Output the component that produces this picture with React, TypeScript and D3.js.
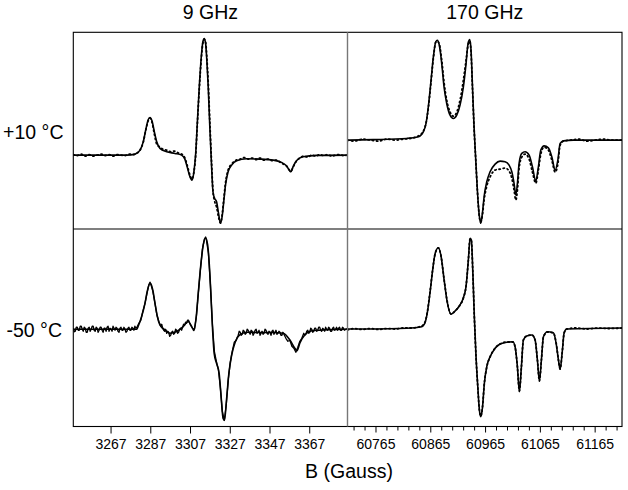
import React from "react";
import * as d3 from "d3";

type Pt = [number, number];

// ---------- axis data ----------
const ticks9: number[] = [3267, 3287, 3307, 3327, 3347, 3367];
const ticks170Major: number[] = [60765, 60865, 60965, 61065, 61165];
const ticks170All: number[] = [
  60725, 60745, 60765, 60785, 60805, 60825, 60845, 60865, 60885, 60905, 60925, 60945,
  60965, 60985, 61005, 61025, 61045, 61065, 61085, 61105, 61125, 61145, 61165, 61185, 61205,
];
const domain9: [number, number] = [3248, 3386];
const domain170: [number, number] = [60713, 61214];
const colTitles = ["9 GHz", "170 GHz"];
const rowTitles = ["+10 °C", "-50 °C"];
const xTitle = "B (Gauss)";

// ---------- 9 GHz, +10 C ----------
const sim9Warm: Pt[] = [
  [3248.1, 0], [3258.1, 0], [3266.5, 0], [3274.9, 0], [3279.1, 1], [3281.6, 5], [3283.2, 13.3],
  [3284.6, 26.7], [3285.6, 35], [3286.6, 37.7], [3287.6, 34.3], [3288.8, 23.3], [3290.0, 13.3],
  [3291.6, 6.7], [3295.0, 3.3], [3299.2, 1.7], [3302.5, 0], [3304.2, -4.3], [3305.3, -11.7],
  [3306.7, -21.7], [3307.7, -25], [3308.7, -16.7], [3309.6, 1.7], [3310.4, 31.7], [3311.4, 68.3],
  [3312.4, 98.3], [3313.2, 113.3], [3313.9, 116.7], [3314.6, 111.7], [3315.2, 95], [3315.9, 68.3],
  [3316.7, 28.3], [3317.6, -11.7], [3318.3, -36.7], [3319.1, -43.3], [3320.1, -46.7], [3321.1, -58.3],
  [3322.1, -68.3], [3322.9, -61.7], [3323.8, -45], [3324.6, -30], [3325.9, -16.7], [3327.7, -10],
  [3330.2, -5.7], [3335.2, -3.7], [3341.9, -4], [3348.6, -5], [3352.8, -7.3], [3355.3, -10.7],
  [3357.5, -16.7], [3358.6, -11.7], [3360.3, -5.7], [3363.6, -1.7], [3370.4, -0.3], [3386, 0],
];
const exp9Warm: Pt[] = [
  [3248, 0.5], [3250, -0.5], [3252, 1], [3254, -1], [3256, 0.5], [3258, -1], [3260, 0], [3262, 1],
  [3264, -0.5], [3266, 0.5], [3268, -1], [3270, 0.5], [3272, 0], [3274, -0.5], [3276, 1], [3278, 0.5],
  [3280, 2], [3281.6, 5], [3283.2, 13], [3284.6, 26], [3285.6, 34], [3286.6, 37], [3287.6, 33],
  [3288.8, 21], [3290, 11], [3291.6, 8], [3293, 6], [3295, 5], [3297, 3.5], [3299, 4], [3301, 2],
  [3302.5, 1], [3304.2, -3], [3305.3, -10], [3306.7, -20], [3307.7, -24], [3308.7, -17], [3309.6, 0],
  [3310.4, 30], [3311.4, 66], [3312.4, 96], [3313.2, 112], [3313.9, 116], [3314.6, 113], [3315.2, 98],
  [3315.9, 73], [3316.7, 34], [3317.6, -8], [3318.3, -36], [3319.1, -46], [3320.1, -52], [3321.1, -62],
  [3322.1, -68], [3322.9, -60], [3323.8, -43], [3324.6, -28], [3325.9, -15], [3327.7, -9], [3330, -5],
  [3332, -4], [3334, -2.5], [3336, -4], [3338, -3], [3340, -4.5], [3342, -3], [3344, -5], [3346, -4],
  [3348, -5.5], [3350, -5], [3352.8, -8], [3355.3, -11], [3357.5, -16], [3358.6, -12], [3360.3, -6],
  [3362, -3], [3364, -1], [3366, -2], [3368, 0], [3370, -1], [3372, 0.5], [3374, -0.5], [3376, 0.5],
  [3378, -1], [3380, 0], [3382, 0.5], [3384, -0.5], [3386, 0],
];

// ---------- 170 GHz, +10 C ----------
const sim170Warm: Pt[] = [
  [60713, 0], [60760, 0.5], [60821, 1.7], [60842.3, 3.3], [60851.4, 8.3], [60856.3, 16.7],
  [60860.5, 33.3], [60864.9, 56.7], [60869.7, 83.3], [60874, 98.3], [60877, 100], [60880.6, 95],
  [60885, 76.7], [60889.2, 53.3], [60894.1, 36.7], [60900.2, 25], [60906.2, 21.7], [60912.4, 25],
  [60918.4, 35], [60924.5, 53.3], [60929.4, 76.7], [60933, 96.7], [60936.1, 100.7], [60938.5, 90],
  [60940.9, 56.7], [60944, 13.3], [60947.1, -20], [60950, -50], [60953.1, -73.3], [60956.2, -83.3],
  [60959.2, -73.3], [60962.3, -56.7], [60967.2, -41.7], [60973.2, -31.7], [60982.4, -24],
  [60991.5, -21], [61000.6, -21.7], [61007.9, -25], [61012.9, -31.7], [61017, -43.3], [61020.2, -55],
  [61023.1, -43.3], [61026.2, -23.3], [61031.1, -13.3], [61037.1, -11.7], [61044.5, -15],
  [61050.5, -26.7], [61056.7, -41], [61061.4, -26.7], [61065.8, -10], [61071.8, -5.7], [61079.7, -7.7],
  [61085.9, -16.7], [61092, -30], [61096.9, -20], [61101.1, -3.3], [61107.1, -0.7], [61125.4, 0],
  [61214, 0],
];
const exp170Warm: Pt[] = [
  [60713, 0], [60725, -1], [60740, 1], [60755, 0], [60770, -1], [60785, 1], [60800, 0], [60815, 1],
  [60830, 2], [60842, 4], [60851.4, 9], [60856.3, 17], [60860.5, 32], [60864.9, 55], [60869.7, 82],
  [60874, 98], [60877, 99], [60880.6, 96], [60885, 80], [60889.2, 58], [60894.1, 40], [60900.2, 28],
  [60906.2, 24], [60912.4, 28], [60918.4, 40], [60924.5, 60], [60929.4, 80], [60933, 95], [60936.1, 99],
  [60938.5, 88], [60940.9, 55], [60944, 12], [60947.1, -20], [60950, -50], [60953.1, -74],
  [60956.2, -82], [60959.2, -75], [60962.3, -60], [60967.2, -46], [60973.2, -37], [60982.4, -30],
  [60991.5, -29], [61000.6, -28], [61007.9, -31], [61012.9, -38], [61017, -50], [61020.2, -60],
  [61023.1, -50], [61026.2, -28], [61031.1, -17], [61037.1, -14], [61044.5, -19], [61050.5, -32],
  [61056.7, -43], [61061.4, -30], [61065.8, -14], [61071.8, -7], [61079.7, -10], [61085.9, -20],
  [61092, -32], [61096.9, -24], [61101.1, -5], [61107.1, -1], [61120, 0], [61135, 1], [61150, -1],
  [61165, 0], [61180, 1], [61195, 0], [61214, 0],
];

// ---------- 9 GHz, -50 C ----------
const sim9Cold: Pt[] = [
  [3248.1, 0], [3279.9, 0], [3280.7, 3.3], [3282.4, 12.7], [3284.1, 26], [3285.2, 37.7], [3286.6, 46],
  [3288, 39.3], [3289.1, 26], [3290.3, 12.7], [3291.6, 4.3], [3294.1, -0.7], [3296.6, -4], [3300, -2.3],
  [3303.3, 2.7], [3305.8, 7.7], [3307.6, 2.7], [3308.7, -1.3], [3309.7, 9.3], [3310.9, 36],
  [3312.1, 62.7], [3313.4, 84.3], [3314.6, 91], [3315.6, 84.3], [3316.4, 66], [3317.3, 32.7],
  [3318.1, -0.3], [3318.9, -24], [3320.1, -34], [3321.4, -44], [3322.4, -67.3], [3323.4, -89],
  [3324.1, -90.7], [3325.1, -70.7], [3326.3, -44], [3327.7, -25.7], [3329.3, -14], [3331.8, -5.7],
  [3335.2, -3], [3341.9, -3.3], [3348.6, -3.3], [3353.6, -4], [3357, -10.7], [3359.5, -19],
  [3360.6, -21.3], [3362, -14], [3364.5, -5.7], [3368.7, -1.3], [3386, 0],
];
const exp9Cold: Pt[] = [
  [3248, 1], [3248.5, -2.5], [3249, -2], [3249.5, 2], [3250, 2], [3250.5, -1], [3251, -1], [3251.5, 3],
  [3252, 3], [3252.5, 0], [3253, -2], [3253.5, 2], [3254, 1], [3254.5, -3], [3255, -3], [3255.5, 1],
  [3256, 2], [3256.5, -2], [3257, 0], [3257.5, 3], [3258, 3], [3258.5, -1], [3259, -2], [3259.5, 2],
  [3260, 1], [3260.5, -3], [3261, -1], [3261.5, 2], [3262, 2], [3262.5, -1], [3263, -3], [3263.5, 1],
  [3264, 1], [3264.5, -2], [3265, 2], [3265.5, 3], [3266, -2], [3266.5, 1], [3267, 0], [3267.5, -2],
  [3268, 3], [3268.5, 1], [3269, -1], [3269.5, 2], [3270, 1], [3270.5, -2], [3271, -3], [3271.5, 1],
  [3272, 2], [3272.5, -1], [3273, -1], [3273.5, 2], [3274, 0], [3274.5, -3], [3275, -2], [3275.5, 1],
  [3276, 2], [3276.5, -1], [3277, -1], [3277.5, 2], [3278, 1], [3278.5, -1], [3279, 3], [3279.5, 1],
  [3280, 2], [3281, 6], [3282, 9], [3283, 18], [3284, 25], [3285, 35], [3286, 44], [3286.6, 47],
  [3287, 45], [3288, 38], [3289, 27], [3290, 15], [3291, 8], [3292, 3], [3292.5, 5], [3293, 1],
  [3293.5, -1], [3294, -2], [3294.5, 0], [3295, -4], [3295.5, -2], [3296, -3], [3296.5, -7], [3297, -6],
  [3297.5, -3], [3298, -2], [3298.5, -5], [3299, -4], [3299.5, 0], [3300, -1], [3300.5, -4], [3301, -3],
  [3301.5, 0], [3302, 1], [3302.5, -1], [3303, 2], [3303.5, 5], [3304, 4], [3304.5, 7], [3305, 6],
  [3305.5, 9], [3306, 9], [3307, 4], [3308, 1], [3309, 0], [3310, 14], [3311, 38], [3312, 60],
  [3313, 80], [3314, 90], [3314.6, 92], [3315, 89], [3316, 76], [3317, 45], [3318, 5], [3319, -22],
  [3320, -32], [3321, -40], [3322, -58], [3323, -82], [3324, -91], [3325, -75], [3326, -50],
  [3327, -33], [3328, -22], [3329, -13], [3330, -11], [3330.5, -8], [3331, -6], [3331.5, -2], [3332, -3],
  [3332.5, -6], [3333, -5], [3333.5, -1], [3334, -2], [3334.5, -5], [3335, -4], [3335.5, 0], [3336, -1],
  [3336.5, -3], [3337, -5], [3337.5, -1], [3338, -2], [3338.5, -6], [3339, -4], [3339.5, -1],
  [3340, 0], [3340.5, -4], [3341, -3], [3341.5, -1], [3342, -6], [3342.5, -4], [3343, -2], [3343.5, -5],
  [3344, -4], [3344.5, 0], [3345, -1], [3345.5, -4], [3346, -5], [3346.5, -2], [3347, -3],
  [3347.5, -6], [3348, -2], [3348.5, -1], [3349, -5], [3349.5, -3], [3350, -1], [3350.5, -5],
  [3351, -4], [3351.5, -2], [3352, -3], [3352.5, -6], [3353, -6], [3353.5, -3], [3354, -5], [3355, -9],
  [3356, -12], [3357, -11], [3358, -17], [3359, -19], [3360, -23], [3361, -18], [3362, -12], [3363, -9],
  [3364, -4], [3364.5, -6], [3365, -5], [3365.5, -2], [3366, -1], [3366.5, -4], [3367, -3],
  [3367.5, 1], [3368, 0], [3368.5, -3], [3369, -2], [3369.5, 1], [3370, 1], [3370.5, -2], [3371, -1],
  [3371.5, 2], [3372, 2], [3372.5, -1], [3373, -2], [3373.5, 1], [3374, 0], [3374.5, -2], [3375, 2],
  [3375.5, 0], [3376, -1], [3376.5, 2], [3377, 1], [3377.5, -2], [3378, -2], [3378.5, 1], [3379, 2],
  [3379.5, -1], [3380, 0], [3380.5, 2], [3381, -1], [3381.5, 1], [3382, 2], [3382.5, -1], [3383, -1],
  [3383.5, 2], [3384, 1], [3384.5, -1], [3385, 0], [3386, 1],
];

// ---------- 170 GHz, -50 C ----------
const sim170Cold: Pt[] = [
  [60713, 0], [60760.1, 0], [60821.1, 0.7], [60848.5, 2.3], [60854.5, 6.3], [60858.7, 16.3],
  [60863.6, 36.3], [60868.6, 59.7], [60873.3, 76.3], [60878.8, 81.3], [60883.7, 73], [60889.2, 49.7],
  [60895.2, 26.3], [60902, 14.7], [60909.3, 18], [60917.1, 23], [60924.5, 31.3], [60929.4, 42.7],
  [60933.6, 69.3], [60936.7, 90.7], [60939.1, 89], [60941.6, 59], [60944.5, 12.3], [60947.6, -27.7],
  [60950.8, -57.7], [60953.7, -81], [60956.2, -87.7], [60959.2, -79.3], [60962.8, -54.3],
  [60967.2, -37.7], [60973.2, -27.7], [60982.4, -19.3], [60991.5, -15], [61003.7, -13.3],
  [61014.7, -12.7], [61018.9, -17.7], [61023.1, -37.7], [61026.7, -62.7], [61030.4, -37.7],
  [61034, -11], [61040.2, -7], [61049.4, -6], [61055.4, -11], [61059.6, -31], [61063.3, -52],
  [61066.9, -31], [61070.6, -7.7], [61077.9, -2.7], [61088.8, -3.7], [61093.8, -14.3], [61098, -31],
  [61101.1, -40.3], [61104.8, -23.7], [61108.4, -3.7], [61113.3, 0], [61214, 1],
];
const exp170Cold: Pt[] = [
  [60713, -1], [60725, 0.5], [60740, -0.5], [60755, 0.5], [60770, -0.5], [60785, 0.5], [60800, 0],
  [60815, 1], [60830, 1], [60848.5, 3], [60854.5, 7], [60858.7, 17], [60863.6, 37], [60868.6, 60],
  [60873.3, 76], [60878.8, 81], [60883.7, 73], [60889.2, 50], [60895.2, 27], [60902, 15], [60909.3, 18],
  [60917.1, 23], [60924.5, 31], [60929.4, 43], [60933.6, 69], [60936.7, 90], [60939.1, 88], [60941.6, 59],
  [60944.5, 12], [60947.6, -28], [60950.8, -58], [60953.7, -81], [60956.2, -87], [60959.2, -79],
  [60962.8, -54], [60967.2, -38], [60973.2, -28], [60982.4, -19], [60991.5, -15], [61003.7, -13],
  [61014.7, -13], [61018.9, -18], [61023.1, -38], [61026.7, -62], [61030.4, -38], [61034, -11],
  [61040.2, -7], [61049.4, -6], [61055.4, -11], [61059.6, -31], [61063.3, -52], [61066.9, -31],
  [61070.6, -8], [61077.9, -3], [61088.8, -4], [61093.8, -14], [61098, -31], [61101.1, -40],
  [61104.8, -24], [61108.4, -4], [61113.3, 0], [61130, 1], [61150, 0], [61170, 1], [61190, 0.5],
  [61214, 1],
];

// ---------- layout ----------
const W = 628;
const H = 490;
const L = 73.3;
const M = 347.5;
const R = 622;
const T = 32.3;
const MY = 229;
const B = 426.5;
const FONT = "Arial, 'Liberation Sans', Helvetica, sans-serif";

type Panel = {
  key: string;
  x0: number;
  x1: number;
  y0: number;
  y1: number;
  xDomain: [number, number];
  yDomain: [number, number];
  sim: Pt[];
  exp: Pt[];
  noisy: boolean;
};

const panels: Panel[] = [
  { key: "tl", x0: L, x1: M, y0: T, y1: MY, xDomain: domain9, yDomain: [-74, 123], sim: sim9Warm, exp: exp9Warm, noisy: false },
  { key: "tr", x0: M, x1: R, y0: T, y1: MY, xDomain: domain170, yDomain: [-89, 108], sim: sim170Warm, exp: exp170Warm, noisy: false },
  { key: "bl", x0: L, x1: M, y0: MY, y1: B, xDomain: domain9, yDomain: [-97, 100], sim: sim9Cold, exp: exp9Cold, noisy: true },
  { key: "br", x0: M, x1: R, y0: MY, y1: B, xDomain: domain170, yDomain: [-97.5, 100], sim: sim170Cold, exp: exp170Cold, noisy: false },
];

function PanelCurves({ p }: { p: Panel }) {
  const x = d3.scaleLinear().domain(p.xDomain).range([p.x0, p.x1]);
  const y = d3.scaleLinear().domain(p.yDomain).range([p.y1, p.y0]);
  const smooth = d3
    .line<Pt>()
    .x((d) => x(d[0]))
    .y((d) => y(d[1]))
    .curve(d3.curveMonotoneX);
  const jag = d3
    .line<Pt>()
    .x((d) => x(d[0]))
    .y((d) => y(d[1]))
    .curve(d3.curveLinear);
  return (
    <g clipPath={`url(#clip-${p.key})`}>
      {p.noisy ? (
        <path d={jag(p.exp) || ""} fill="none" stroke="#000" strokeWidth={1.3} strokeLinejoin="round" />
      ) : (
        <path
          d={smooth(p.exp) || ""}
          fill="none"
          stroke="#000"
          strokeWidth={1.8}
          strokeDasharray="1.2 3"
          strokeLinecap="round"
        />
      )}
      <path d={smooth(p.sim) || ""} fill="none" stroke="#000" strokeWidth={1.6} strokeLinejoin="round" />
    </g>
  );
}

export default function App() {
  const x9 = d3.scaleLinear().domain(domain9).range([L, M]);
  const x170 = d3.scaleLinear().domain(domain170).range([M, R]);
  return (
    <svg
      width={W}
      height={H}
      viewBox={`0 0 ${W} ${H}`}
      style={{ position: "absolute", left: 0, top: 0, background: "#fff" }}
      fontFamily={FONT}
    >
      <defs>
        {panels.map((p) => (
          <clipPath id={`clip-${p.key}`} key={p.key}>
            <rect x={p.x0} y={p.y0} width={p.x1 - p.x0} height={p.y1 - p.y0} />
          </clipPath>
        ))}
      </defs>
      <rect x={0} y={0} width={W} height={H} fill="#fff" />

      {panels.map((p) => (
        <PanelCurves key={p.key} p={p} />
      ))}

      {/* frame */}
      <rect x={L} y={T} width={R - L} height={B - T} fill="none" stroke="#000" strokeWidth={1.1} />
      <line x1={L} x2={R} y1={MY} y2={MY} stroke="#000" strokeWidth={1.1} />
      <line x1={M} x2={M} y1={T} y2={B} stroke="#777" strokeWidth={1.4} />

      {/* 9 GHz axis */}
      {ticks9.map((t) => (
        <g key={t}>
          <line x1={x9(t)} x2={x9(t)} y1={B} y2={B + 7} stroke="#000" strokeWidth={1} />
          <text x={x9(t)} y={448.5} fontSize={14} textAnchor="middle" fill="#000">
            {t}
          </text>
        </g>
      ))}
      {/* 170 GHz axis */}
      {ticks170All.map((t) => {
        const major = ticks170Major.includes(t);
        return (
          <line key={t} x1={x170(t)} x2={x170(t)} y1={B} y2={B + (major ? 6 : 4)} stroke="#000" strokeWidth={1} />
        );
      })}
      {ticks170Major.map((t) => (
        <text key={t} x={x170(t)} y={448.5} fontSize={14} textAnchor="middle" fill="#000">
          {t}
        </text>
      ))}

      {/* titles */}
      <text x={(L + M) / 2} y={19} fontSize={19.5} textAnchor="middle" fill="#000">
        {colTitles[0]}
      </text>
      <text x={(M + R) / 2} y={19} fontSize={19.5} textAnchor="middle" fill="#000">
        {colTitles[1]}
      </text>
      <text x={63.5} y={138.5} fontSize={19.5} textAnchor="end" fill="#000">
        {rowTitles[0]}
      </text>
      <text x={62} y={336.5} fontSize={19.5} textAnchor="end" fill="#000">
        {rowTitles[1]}
      </text>
      <text x={349} y={478} fontSize={19.5} textAnchor="middle" fill="#000">
        {xTitle}
      </text>
    </svg>
  );
}
